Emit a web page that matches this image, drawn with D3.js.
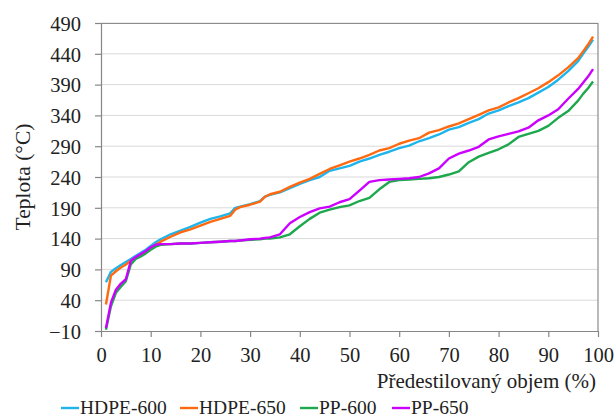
<!DOCTYPE html>
<html>
<head>
<meta charset="utf-8">
<script src="https://cdn.jsdelivr.net/npm/d3@7"></script>
<style>
    body { margin: 0; background: #fff; }
    svg { font-family: "Liberation Serif", "Times New Roman", serif; }
    .grid line { stroke: #d9d9d9; stroke-width: 1; }
    .axis path, .axis line { stroke: #868686; }
    .axis text { fill: #222; font-size: 20.5px; font-family: "Liberation Serif", "Times New Roman", serif; }
    .series { fill: none; stroke-width: 2.4; stroke-linejoin: round; }
</style>
</head>
<body>
<div id="chart"></div>
<script>
// distilled volume (%) where the temperatures were read
const volume = [1, 2, 3, 4, 5, 6, 7, 8, 9, 10, 11, 12, 14, 16, 18, 20, 22, 24, 26, 27, 28, 30, 32, 33, 34, 36, 38, 40,
    42, 44, 46, 48, 50, 52, 54, 56, 58, 60, 62, 64, 66, 68, 70, 72, 74, 76, 78, 80, 82, 84, 86, 88, 90, 92, 94, 96, 97, 98, 99];

const hdpe600 = [69, 86, 92, 97, 102, 107, 112, 117, 122, 128, 134, 139, 147, 153, 159, 166, 172, 176, 181, 190, 192, 196, 201, 208, 211, 215, 222, 229,
    235, 240, 250, 254, 258, 265, 270, 276, 281, 287, 291, 298, 303, 309, 317, 321, 328, 334, 343, 348, 355, 361, 368, 377, 386, 398, 412, 428, 440, 451, 463];

const hdpe650 = [33, 80, 87, 93, 98, 104, 109, 114, 119, 124, 130, 135, 143, 150, 155, 161, 167, 172, 177, 187, 191, 195, 200, 208, 212, 216, 224, 231,
    237, 245, 253, 259, 265, 270, 276, 283, 287, 294, 299, 303, 312, 316, 322, 327, 334, 341, 348, 353, 361, 368, 376, 384, 394, 405, 418, 433, 444, 455, 468];

const pp600 = [-8, 30, 52, 62, 71, 98, 107, 111, 116, 122, 127, 130, 131, 132, 132, 133, 134, 135, 136, 136, 137, 138, 139, 140, 140, 142, 147, 160,
    172, 182, 187, 191, 194, 201, 206, 220, 232, 235, 236, 237, 238, 240, 244, 249, 264, 273, 279, 285, 293, 305, 310, 315, 323, 336, 347, 364, 375, 384, 395];

const pp650 = [-5, 36, 57, 67, 74, 104, 110, 115, 120, 126, 130, 131, 131, 132, 132, 133, 134, 135, 136, 136, 137, 139, 140, 141, 142, 147, 165, 175,
    183, 189, 192, 199, 204, 218, 232, 235, 236, 237, 238, 240, 246, 254, 270, 278, 283, 289, 301, 306, 310, 314, 320, 332, 340, 350, 367, 383, 393, 403, 415];

const seriesNames = ["HDPE-600", "HDPE-650", "PP-600", "PP-650"];
const seriesColors = ["#1eb4ec", "#ff6a10", "#1ea84e", "#cc00ff"];
const yTicks = [-10, 40, 90, 140, 190, 240, 290, 340, 390, 440, 490];
const xTicks = [0, 10, 20, 30, 40, 50, 60, 70, 80, 90, 100];

class DistillationChart {

    constructor() {
        this.width = 614;
        this.height = 418;
        this.margin = {left: 101, right: 16, top: 23, bottom: 87};
        this.tickSize = 6;
    }

    draw(container) {
        const m = this.margin;
        const iw = this.width - m.left - m.right;
        const ih = this.height - m.top - m.bottom;

        const svg = d3.select(container).append("svg")
            .attr("width", this.width)
            .attr("height", this.height);

        const x = d3.scaleLinear().domain([0, 100]).range([0, iw]);
        const y = d3.scaleLinear().domain([-10, 490]).range([ih, 0]);

        const g = svg.append("g").attr("transform", `translate(${m.left},${m.top})`);

        //horizontal gridlines
        g.append("g").classed("grid", true)
            .selectAll("line")
            .data(yTicks.slice(1))
            .join("line")
            .attr("x1", 0).attr("x2", iw)
            .attr("y1", d => y(d)).attr("y2", d => y(d));

        //frame on top and right side
        g.append("path")
            .attr("d", `M0,0.5 H${iw} V${ih}`)
            .attr("fill", "none")
            .attr("stroke", "#8c8c8c")
            .attr("stroke-width", 1.2);

        const xAxis = g.append("g").classed("axis", true)
            .attr("transform", `translate(0,${ih})`)
            .call(d3.axisBottom(x).tickValues(xTicks).tickSize(this.tickSize).tickSizeOuter(0).tickPadding(6));
        xAxis.selectAll("text").attr("dy", "0.95em");

        const yAxis = g.append("g").classed("axis", true)
            .call(d3.axisLeft(y).tickValues(yTicks).tickSize(this.tickSize).tickSizeOuter(0).tickPadding(14));
        yAxis.selectAll("text").attr("dy", "0.36em");
        g.selectAll(".axis path, .axis line").attr("stroke-width", 1.2);

        //series lines
        const all = [hdpe600, hdpe650, pp600, pp650];
        const line = d3.line()
            .x((d, i) => x(volume[i]))
            .y(d => y(d));

        g.append("g").selectAll("path")
            .data(all)
            .join("path")
            .classed("series", true)
            .attr("stroke", (d, i) => seriesColors[i])
            .attr("d", line);

        //axis titles
        svg.append("text")
            .attr("transform", `translate(30,${m.top + ih / 2}) rotate(-90)`)
            .attr("text-anchor", "middle")
            .attr("font-size", 21.5)
            .attr("fill", "#222")
            .text("Teplota (°C)");

        svg.append("text")
            .attr("x", 596)
            .attr("y", 388)
            .attr("text-anchor", "end")
            .attr("font-size", 21)
            .attr("fill", "#222")
            .text("Předestilovaný objem (%)");

        //legend
        const legendX = [61, 180, 300, 392];
        const legend = svg.append("g").selectAll("g")
            .data(seriesNames)
            .join("g")
            .attr("transform", (d, i) => `translate(${legendX[i]},408)`);
        legend.append("line")
            .attr("x1", 0).attr("x2", 18)
            .attr("stroke", (d, i) => seriesColors[i])
            .attr("stroke-width", 2.4);
        legend.append("text")
            .attr("x", 19)
            .attr("dy", "0.33em")
            .attr("font-size", 19.5)
            .attr("fill", "#222")
            .text(d => d);
    }
}

new DistillationChart().draw("#chart");
</script>
</body>
</html>
